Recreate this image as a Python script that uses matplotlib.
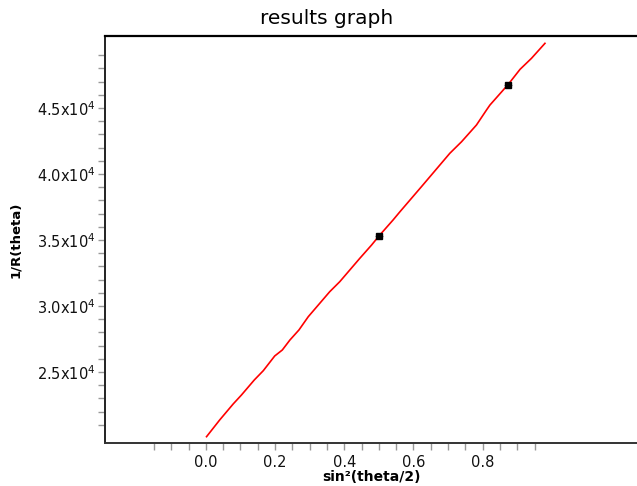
import matplotlib.pyplot as plt
from matplotlib.ticker import FixedLocator

plt.rcParams['font.family'] = ['DejaVu Sans']
plt.rcParams['mathtext.fontset'] = 'dejavusans'

# fitted line
line_x = [0.002, 0.040, 0.079, 0.103, 0.140, 0.166, 0.199, 0.221, 0.243, 0.269,
          0.296, 0.358, 0.387, 0.445, 0.479, 0.501, 0.541, 0.561, 0.623, 0.705,
          0.739, 0.782, 0.811, 0.821, 0.874, 0.908, 0.941, 0.980]
line_y = [20098, 21364, 22576, 23258, 24394, 25098, 26212, 26667, 27424, 28182,
          29189, 31083, 31841, 33614, 34621, 35326, 36515, 37144, 39038, 41568,
          42447, 43712, 44848, 45227, 46795, 47932, 48765, 49902]

# measured points
pts_x = [0.501, 0.874]
pts_y = [35300, 46780]
pts_xerr = [0.012, 0.012]

ytick_vals = [25000, 30000, 35000, 40000, 45000]
ytick_labels = [r'2.5x10$^4$', r'3.0x10$^4$', r'3.5x10$^4$', r'4.0x10$^4$', r'4.5x10$^4$']
xtick_vals = [0.0, 0.2, 0.4, 0.6, 0.8]
xtick_labels = ['0.0', '0.2', '0.4', '0.6', '0.8']

fig = plt.figure(figsize=(6.37, 4.86), dpi=100)
ax = fig.add_axes([0.1656, 0.0885, 0.8344, 0.8364])

ax.plot(line_x, line_y, color='red', lw=1.2, zorder=2)
ax.errorbar(pts_x, pts_y, xerr=pts_xerr, fmt='s', color='black', ms=5,
            ecolor='gray', elinewidth=0.8, capsize=0, zorder=3)

ax.set_xlim(-0.29, 1.246)
ax.set_ylim(19620, 50420)

ax.xaxis.set_major_locator(FixedLocator(xtick_vals))
ax.set_xticklabels(xtick_labels)
ax.xaxis.set_minor_locator(FixedLocator([-0.15, -0.1, -0.05, 0.05, 0.1, 0.15, 0.25, 0.3, 0.35,
                                         0.45, 0.5, 0.55, 0.65, 0.7, 0.75, 0.85, 0.9, 0.95]))
ax.yaxis.set_major_locator(FixedLocator(ytick_vals))
ax.set_yticklabels(ytick_labels)
ax.yaxis.set_minor_locator(FixedLocator([v for v in range(21000, 50000, 1000) if v % 5000 != 0]))

ax.spines['right'].set_visible(False)
ax.spines['top'].set_linewidth(1.6)
ax.spines['left'].set_linewidth(1.4)
ax.spines['left'].set_color('#222222')
ax.spines['bottom'].set_linewidth(1.4)
ax.spines['bottom'].set_color('#333333')

ax.tick_params(which='both', direction='out', color='#999999', width=1.0,
               labelsize=10.5, labelcolor='#111111')
ax.tick_params(which='both', length=5)
ax.tick_params(axis='x', pad=4)
ax.tick_params(axis='y', pad=2)

ax.set_xlabel('sin²(theta/2)', fontsize=10, fontweight='bold')
ax.xaxis.set_label_coords(0.5, -0.067)
ax.set_ylabel('1/R(theta)', fontsize=9.5, fontweight='bold')
ax.yaxis.set_label_coords(-0.157, 0.5)

fig.text(0.512, 0.961, 'results graph', ha='center', va='center', fontsize=14.5)

fig.savefig('out.png', dpi=100)
